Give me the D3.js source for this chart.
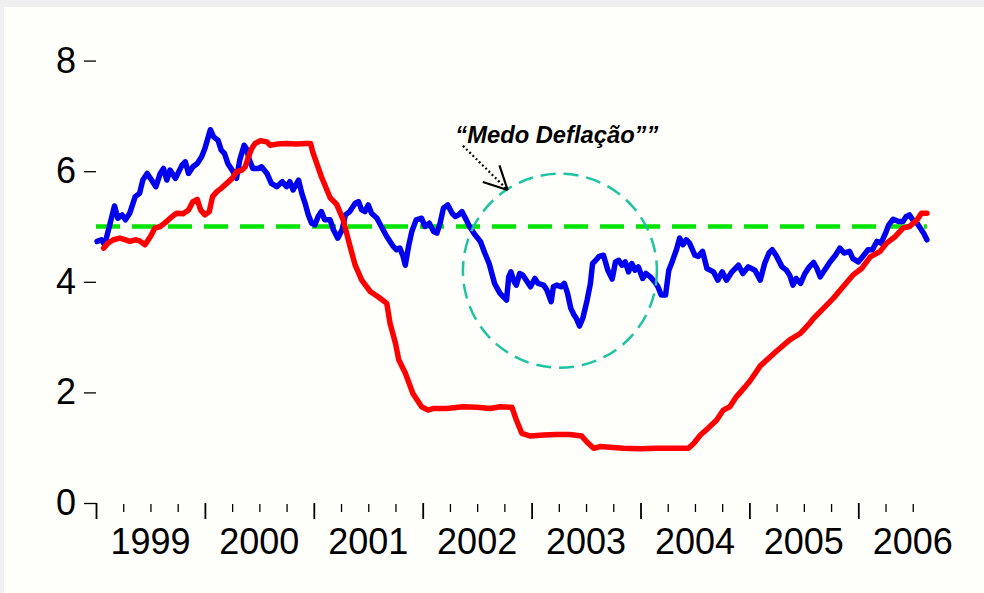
<!DOCTYPE html>
<html>
<head>
<meta charset="utf-8">
<script src="https://cdn.jsdelivr.net/npm/d3@7"></script>
<style>
  body { margin: 0; background: #efefef; }
  svg { display: block; }
  text { font-family: "Liberation Sans", Arial, sans-serif; fill: #000; }
</style>
</head>
<body>
<script>
// eixo x em anos decimais
var anos = [1999, 2000, 2001, 2002, 2003, 2004, 2005, 2006];
var yTicks = [0, 2, 4, 6, 8];
var meta = 5;

// linha azul (juros 10 anos)
var azulT = [1999.01,1999.05,1999.08,1999.13,1999.17,1999.20,1999.24,1999.27,1999.31,1999.36,1999.40,1999.43,1999.47,1999.51,1999.55,1999.59,1999.62,1999.65,1999.68,1999.73,1999.79,1999.82,1999.85,1999.89,1999.93,1999.97,2000.00,2000.05,2000.08,2000.12,2000.15,2000.18,2000.21,2000.26,2000.29,2000.32,2000.36,2000.38,2000.41,2000.44,2000.49,2000.52,2000.57,2000.61,2000.66,2000.71,2000.75,2000.78,2000.81,2000.86,2000.89,2000.92,2000.95,2000.98,2001.01,2001.04,2001.07,2001.10,2001.15,2001.18,2001.22,2001.26,2001.29,2001.33,2001.38,2001.41,2001.44,2001.47,2001.50,2001.53,2001.58,2001.62,2001.67,2001.70,2001.73,2001.76,2001.79,2001.82,2001.84,2001.87,2001.90,2001.94,2001.99,2002.02,2002.06,2002.10,2002.13,2002.16,2002.19,2002.23,2002.27,2002.30,2002.33,2002.36,2002.40,2002.43,2002.48,2002.53,2002.57,2002.61,2002.66,2002.71,2002.77,2002.79,2002.81,2002.84,2002.86,2002.89,2002.92,2002.96,2002.99,2003.03,2003.06,2003.11,2003.14,2003.18,2003.20,2003.23,2003.27,2003.30,2003.33,2003.36,2003.39,2003.41,2003.44,2003.47,2003.51,2003.54,2003.56,2003.59,2003.62,2003.66,2003.70,2003.74,2003.77,2003.80,2003.83,2003.86,2003.89,2003.92,2003.95,2003.98,2004.02,2004.05,2004.09,2004.13,2004.16,2004.19,2004.23,2004.26,2004.29,2004.33,2004.36,2004.39,2004.42,2004.45,2004.50,2004.53,2004.57,2004.61,2004.67,2004.71,2004.75,2004.79,2004.84,2004.90,2004.94,2004.99,2005.05,2005.10,2005.14,2005.18,2005.21,2005.25,2005.30,2005.34,2005.37,2005.40,2005.43,2005.47,2005.51,2005.55,2005.59,2005.62,2005.65,2005.69,2005.74,2005.79,2005.83,2005.87,2005.92,2005.95,2006.00,2006.05,2006.09,2006.13,2006.17,2006.21,2006.25,2006.28,2006.32,2006.37,2006.41,2006.44,2006.47,2006.51,2006.54,2006.57,2006.60,2006.63];
var azulV = [4.73,4.76,4.67,5.06,5.37,5.15,5.21,5.12,5.24,5.54,5.60,5.84,5.96,5.84,5.72,5.96,6.05,5.84,6.02,5.87,6.11,6.17,5.96,6.08,6.14,6.26,6.41,6.75,6.62,6.56,6.38,6.32,6.14,5.99,5.87,6.20,6.47,6.41,6.20,6.05,6.05,6.08,5.96,5.78,5.72,5.81,5.72,5.81,5.66,5.84,5.60,5.42,5.21,5.06,5.03,5.18,5.27,5.12,5.12,4.94,4.79,4.94,5.21,5.27,5.42,5.45,5.30,5.27,5.39,5.24,5.15,5.00,4.82,4.73,4.64,4.58,4.61,4.46,4.30,4.64,4.91,5.12,5.15,5.00,5.06,4.91,4.88,5.06,5.33,5.39,5.24,5.18,5.21,5.27,5.12,5.00,4.85,4.73,4.52,4.33,3.97,3.79,3.67,4.09,4.18,4.00,3.94,4.15,4.12,4.00,3.91,4.06,3.97,3.94,3.85,3.64,3.91,3.94,3.91,3.97,3.79,3.52,3.40,3.34,3.20,3.34,3.67,3.97,4.33,4.39,4.46,4.48,4.21,4.05,4.36,4.39,4.30,4.36,4.18,4.33,4.21,4.27,4.06,4.15,4.09,4.00,3.91,3.76,3.76,4.21,4.36,4.58,4.79,4.67,4.76,4.70,4.48,4.46,4.55,4.24,4.18,4.03,4.18,4.03,4.18,4.30,4.15,4.27,4.21,4.03,4.33,4.52,4.58,4.46,4.27,4.21,4.12,3.94,4.06,3.97,4.15,4.27,4.35,4.24,4.09,4.21,4.36,4.48,4.61,4.52,4.55,4.42,4.36,4.48,4.58,4.58,4.73,4.70,4.88,5.03,5.13,5.09,5.09,5.18,5.21,5.09,5.06,4.97,4.88,4.76];

// linha vermelha (fed funds)
var vermT = [1999.07,1999.11,1999.16,1999.22,1999.27,1999.31,1999.36,1999.40,1999.45,1999.50,1999.54,1999.59,1999.63,1999.70,1999.74,1999.80,1999.85,1999.89,1999.93,1999.96,2000.00,2000.04,2000.07,2000.11,2000.15,2000.20,2000.25,2000.29,2000.34,2000.37,2000.40,2000.43,2000.46,2000.51,2000.57,2000.60,2000.66,2000.75,2000.84,2000.93,2000.97,2000.99,2001.07,2001.15,2001.21,2001.27,2001.33,2001.38,2001.44,2001.52,2001.59,2001.67,2001.70,2001.75,2001.78,2001.84,2001.91,2001.99,2002.05,2002.10,2002.22,2002.37,2002.50,2002.62,2002.71,2002.82,2002.86,2002.91,2002.99,2003.11,2003.23,2003.35,2003.46,2003.52,2003.57,2003.63,2003.72,2003.84,2004.00,2004.15,2004.30,2004.44,2004.49,2004.55,2004.62,2004.70,2004.76,2004.82,2004.88,2004.96,2005.01,2005.10,2005.24,2005.37,2005.47,2005.54,2005.59,2005.68,2005.77,2005.86,2005.95,2006.03,2006.11,2006.20,2006.26,2006.34,2006.41,2006.47,2006.54,2006.58,2006.63];
var vermV = [4.61,4.70,4.76,4.79,4.76,4.73,4.76,4.74,4.67,4.82,4.97,5.00,5.06,5.18,5.24,5.23,5.30,5.45,5.49,5.30,5.21,5.27,5.54,5.63,5.69,5.78,5.87,5.99,6.02,6.08,6.26,6.41,6.50,6.55,6.53,6.47,6.49,6.50,6.49,6.50,6.50,6.35,5.90,5.52,5.40,5.12,4.66,4.30,4.03,3.82,3.73,3.61,3.25,2.89,2.59,2.35,1.98,1.74,1.68,1.71,1.71,1.74,1.73,1.71,1.74,1.73,1.50,1.26,1.21,1.23,1.24,1.24,1.21,1.08,0.99,1.02,1.01,0.99,0.98,0.99,0.99,0.99,1.08,1.23,1.35,1.50,1.68,1.74,1.92,2.10,2.22,2.48,2.73,2.95,3.07,3.22,3.34,3.52,3.70,3.91,4.12,4.24,4.45,4.55,4.70,4.82,4.97,5.00,5.12,5.24,5.24];

// anotação
var notaTexto = "\u201CMedo Defla\u00E7\u00E3o\u201D\u201D";
var notaPos = [2002.30, 6.51];
var setaIni = [2002.37, 6.46], setaFim = [2002.78, 5.66];
var circulo = [2003.26, 4.20];

var width = 984, height = 593;
var svg = d3.select('body').append('svg').attr('width', width).attr('height', height);

svg.append('rect').attr('x', 4).attr('y', 7).attr('width', width - 4).attr('height', height - 7).attr('fill', '#fefefa');

var x = d3.scaleLinear().domain([1999, 2006]).range([96, 858.3]);
var y = d3.scaleLinear().domain([0, 8]).range([503, 60.6]);

// eixo y
var yAxis = svg.append('g').attr('transform', 'translate(96,0)')
  .call(d3.axisLeft(y).tickValues(yTicks).tickSize(12).tickPadding(8).tickFormat(d3.format('d')));
yAxis.select('.domain').remove();
yAxis.selectAll('line').attr('stroke', '#000').attr('stroke-width', 1.3);
yAxis.selectAll('text').attr('font-size', 36).attr('font-family', '"Liberation Sans", Arial, sans-serif');

// eixo x: trimestres
var trimestres = d3.range(1999, 2006.51, 0.25);
var maiores = trimestres.filter(function(d) { return d % 1 === 0; });
var menores = trimestres.filter(function(d) { return d % 1 !== 0; });

var xMaior = svg.append('g').attr('transform', 'translate(0,503)')
  .call(d3.axisBottom(x).tickValues(maiores).tickSize(16).tickFormat(''));
var xMenor = svg.append('g').attr('transform', 'translate(0,504)')
  .call(d3.axisBottom(x).tickValues(menores).tickSize(8).tickFormat(''));
xMaior.select('.domain').remove();
xMenor.select('.domain').remove();
xMaior.selectAll('line').attr('stroke', '#000').attr('stroke-width', 1.8);
xMenor.selectAll('line').attr('stroke', '#000').attr('stroke-width', 1.3);

svg.append('g').selectAll('text').data(anos).enter().append('text')
  .attr('x', function(d) { return x(d + 0.5); })
  .attr('y', 554)
  .attr('text-anchor', 'middle')
  .attr('font-size', 36)
  .text(function(d) { return d; });

// linha de meta 5%
svg.append('line')
  .attr('x1', x(1999)).attr('x2', x(azulT[azulT.length - 1]))
  .attr('y1', y(meta)).attr('y2', y(meta))
  .attr('stroke', '#00e400').attr('stroke-width', 4.5)
  .attr('stroke-dasharray', '24,12');

var linha = d3.line()
  .x(function(d) { return x(d[0]); })
  .y(function(d) { return y(d[1]); });

svg.append('path')
  .attr('fill', 'none').attr('stroke', '#0000f0').attr('stroke-width', 5.5)
  .attr('stroke-linejoin', 'round').attr('stroke-linecap', 'round')
  .attr('d', linha(d3.zip(azulT, azulV)));

svg.append('path')
  .attr('fill', 'none').attr('stroke', '#ff0000').attr('stroke-width', 5.5)
  .attr('stroke-linejoin', 'round').attr('stroke-linecap', 'round')
  .attr('d', linha(d3.zip(vermT, vermV)));

// círculo tracejado
svg.append('circle')
  .attr('cx', x(circulo[0])).attr('cy', y(circulo[1])).attr('r', 97)
  .attr('fill', 'none').attr('stroke', '#1ec3a0').attr('stroke-width', 2.5)
  .attr('stroke-dasharray', '15,8');

// seta pontilhada
var x0 = x(setaIni[0]), y0 = y(setaIni[1]), x1 = x(setaFim[0]), y1 = y(setaFim[1]);
svg.append('line')
  .attr('x1', x0).attr('y1', y0).attr('x2', x1).attr('y2', y1)
  .attr('stroke', '#000').attr('stroke-width', 2.2).attr('stroke-dasharray', '2,2.5');
var ang = Math.atan2(y0 - y1, x0 - x1);
[-0.47, 0.47].forEach(function(a) {
  svg.append('line')
    .attr('x1', x1).attr('y1', y1)
    .attr('x2', x1 + 26 * Math.cos(ang + a)).attr('y2', y1 + 26 * Math.sin(ang + a))
    .attr('stroke', '#000').attr('stroke-width', 2.2);
});

svg.append('text')
  .attr('x', x(notaPos[0])).attr('y', y(notaPos[1]))
  .style('font-size', '23px').style('font-weight', 'bold').style('font-style', 'italic')
  .attr('textLength', 203).attr('lengthAdjust', 'spacingAndGlyphs')
  .text(notaTexto);
</script>
</body>
</html>
